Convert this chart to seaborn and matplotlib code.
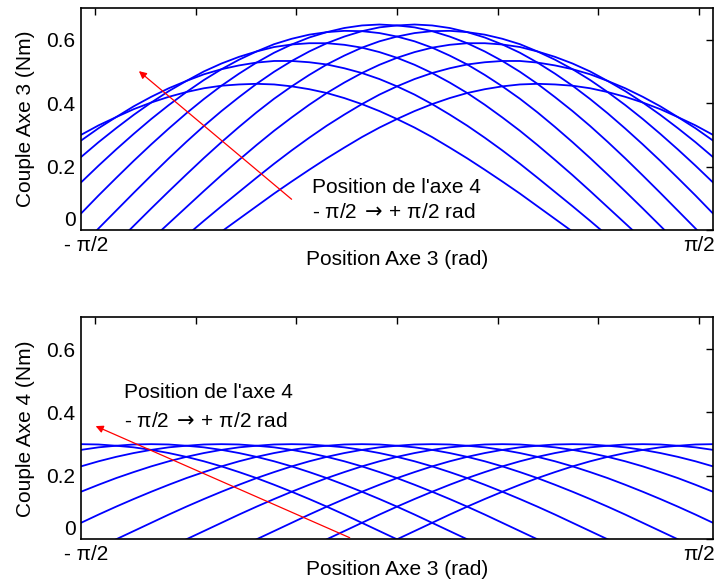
import numpy as np
import pandas as pd
import seaborn as sns
import matplotlib
matplotlib.use('Agg')
from matplotlib import pyplot as plt
from matplotlib.transforms import ScaledTranslation

# position of axis 3 (deg), sampled every 5 deg
q3_deg = [-90, -85, -80, -75, -70, -65, -60, -55, -50, -45, -40, -35, -30,
          -25, -20, -15, -10, -5, 0, 5, 10, 15, 20, 25, 30, 35, 40, 45, 50,
          55, 60, 65, 70, 75, 80, 85, 90]
# position of axis 4 for each curve (deg)
q4_deg = ['-90', '-70', '-50', '-30', '-10', '10', '30', '50', '70', '90']

# torque of axis 3 (Nm), one row per axis 4 position
couple3 = [
    [-.300, -.268, -.234, -.199, -.162, -.124, -.085, -.045, -.005, .035, .075, .115, .153, .190, .226, .260, .293, .323, .350,
     .375, .397, .416, .432, .444, .453, .459, .461, .459, .455, .447, .435, .420, .402, .381, .356, .330, .300],
    [-.282, -.241, -.199, -.155, -.110, -.064, -.018, .029, .075, .120, .165, .209, .251, .291, .329, .364, .397, .427, .453,
     .476, .495, .510, .522, .529, .533, .533, .528, .519, .507, .491, .470, .447, .420, .390, .356, .321, .282],
    [-.230, -.181, -.132, -.081, -.030, .021, .072, .123, .173, .221, .268, .313, .355, .395, .432, .465, .495, .521, .543,
     .561, .575, .584, .589, .589, .585, .577, .563, .546, .525, .500, .470, .438, .402, .363, .321, .277, .230],
    [-.150, -.096, -.042, .013, .068, .122, .175, .227, .277, .325, .371, .414, .453, .489, .522, .550, .575, .595, .610,
     .621, .627, .628, .624, .616, .603, .586, .563, .537, .507, .473, .435, .394, .350, .303, .254, .203, .150],
    [-.052, .005, .061, .117, .172, .226, .278, .328, .375, .419, .461, .499, .533, .563, .589, .610, .627, .639, .645,
     .648, .645, .637, .624, .607, .585, .559, .528, .493, .455, .413, .368, .320, .270, .218, .164, .109, .052],
    [.052, .109, .164, .218, .270, .320, .368, .413, .455, .493, .528, .559, .585, .607, .624, .637, .645, .648, .645,
     .639, .627, .610, .589, .563, .533, .499, .461, .419, .375, .328, .278, .226, .172, .117, .061, .005, -.052],
    [.150, .203, .254, .303, .350, .394, .435, .473, .507, .537, .563, .586, .603, .616, .624, .628, .627, .621, .610,
     .595, .575, .550, .522, .489, .453, .414, .371, .325, .277, .227, .175, .122, .068, .013, -.042, -.096, -.150],
    [.230, .277, .321, .363, .402, .438, .470, .500, .525, .546, .563, .577, .585, .589, .589, .584, .575, .561, .543,
     .521, .495, .465, .432, .395, .355, .313, .268, .221, .173, .123, .072, .021, -.030, -.081, -.132, -.181, -.230],
    [.282, .321, .356, .390, .420, .447, .470, .491, .507, .519, .528, .533, .533, .529, .522, .510, .495, .476, .453,
     .427, .397, .364, .329, .291, .251, .209, .165, .120, .075, .029, -.018, -.064, -.110, -.155, -.199, -.241, -.282],
    [.300, .330, .356, .381, .402, .420, .435, .447, .455, .459, .461, .459, .453, .444, .432, .416, .397, .375, .350,
     .323, .293, .260, .226, .190, .153, .115, .075, .035, -.005, -.045, -.085, -.124, -.162, -.199, -.234, -.268, -.300],
]

# torque of axis 4 (Nm)
couple4 = [
    [-.300, -.299, -.295, -.290, -.282, -.272, -.260, -.246, -.230, -.212, -.193, -.172, -.150, -.127, -.103, -.078, -.052, -.026, 0,
     .026, .052, .078, .103, .127, .150, .172, .193, .212, .230, .246, .260, .272, .282, .290, .295, .299, .300],
    [-.282, -.272, -.260, -.246, -.230, -.212, -.193, -.172, -.150, -.127, -.103, -.078, -.052, -.026, 0, .026, .052, .078, .103,
     .127, .150, .172, .193, .212, .230, .246, .260, .272, .282, .290, .295, .299, .300, .299, .295, .290, .282],
    [-.230, -.212, -.193, -.172, -.150, -.127, -.103, -.078, -.052, -.026, 0, .026, .052, .078, .103, .127, .150, .172, .193,
     .212, .230, .246, .260, .272, .282, .290, .295, .299, .300, .299, .295, .290, .282, .272, .260, .246, .230],
    [-.150, -.127, -.103, -.078, -.052, -.026, 0, .026, .052, .078, .103, .127, .150, .172, .193, .212, .230, .246, .260,
     .272, .282, .290, .295, .299, .300, .299, .295, .290, .282, .272, .260, .246, .230, .212, .193, .172, .150],
    [-.052, -.026, 0, .026, .052, .078, .103, .127, .150, .172, .193, .212, .230, .246, .260, .272, .282, .290, .295,
     .299, .300, .299, .295, .290, .282, .272, .260, .246, .230, .212, .193, .172, .150, .127, .103, .078, .052],
    [.052, .078, .103, .127, .150, .172, .193, .212, .230, .246, .260, .272, .282, .290, .295, .299, .300, .299, .295,
     .290, .282, .272, .260, .246, .230, .212, .193, .172, .150, .127, .103, .078, .052, .026, 0, -.026, -.052],
    [.150, .172, .193, .212, .230, .246, .260, .272, .282, .290, .295, .299, .300, .299, .295, .290, .282, .272, .260,
     .246, .230, .212, .193, .172, .150, .127, .103, .078, .052, .026, 0, -.026, -.052, -.078, -.103, -.127, -.150],
    [.230, .246, .260, .272, .282, .290, .295, .299, .300, .299, .295, .290, .282, .272, .260, .246, .230, .212, .193,
     .172, .150, .127, .103, .078, .052, .026, 0, -.026, -.052, -.078, -.103, -.127, -.150, -.172, -.193, -.212, -.230],
    [.282, .290, .295, .299, .300, .299, .295, .290, .282, .272, .260, .246, .230, .212, .193, .172, .150, .127, .103,
     .078, .052, .026, 0, -.026, -.052, -.078, -.103, -.127, -.150, -.172, -.193, -.212, -.230, -.246, -.260, -.272, -.282],
    [.300, .299, .295, .290, .282, .272, .260, .246, .230, .212, .193, .172, .150, .127, .103, .078, .052, .026, 0,
     -.026, -.052, -.078, -.103, -.127, -.150, -.172, -.193, -.212, -.230, -.246, -.260, -.272, -.282, -.290, -.295, -.299, -.300],
]

x_ticks = [-1.5, -1.0, -0.5, 0.0, 0.5, 1.0, 1.5]
x_ticklabels = ['- π/2', '', '', '', '', '', 'π/2']
y_ticks = [0, 0.2, 0.4, 0.6]
y_ticklabels = ['0', '0.2', '0.4', '0.6']

sns.set_style('white', {'axes.edgecolor': 'black', 'xtick.color': 'black',
                        'ytick.color': 'black', 'text.color': 'black',
                        'axes.labelcolor': 'black'})
plt.rcParams['font.family'] = ['Liberation Sans', 'DejaVu Sans']
plt.rcParams['font.size'] = 15
FS = 15


def to_frame(rows):
    q3 = np.deg2rad(q3_deg)
    parts = []
    for lab, vals in zip(q4_deg, rows):
        parts.append(pd.DataFrame({'q3': q3, 'couple': vals, 'q4': lab}))
    return pd.concat(parts, ignore_index=True)


fig = plt.figure(figsize=(7.15, 5.85), dpi=100)
ax_top = fig.add_axes([0.1133, 0.6068, 0.8839, 0.3795])
ax_bot = fig.add_axes([0.1133, 0.0781, 0.8839, 0.3795])

for ax, rows, ylab in [(ax_top, couple3, 'Couple Axe 3 (Nm)'),
                       (ax_bot, couple4, 'Couple Axe 4 (Nm)')]:
    sns.lineplot(data=to_frame(rows), x='q3', y='couple', hue='q4',
                 palette=['#0000ff'] * len(q4_deg), legend=False,
                 linewidth=1.3, errorbar=None, ax=ax)
    ax.set_xlim(-np.pi / 2, np.pi / 2)
    ax.set_ylim(0, 0.7)
    ax.set_xticks(x_ticks)
    ax.set_xticklabels(x_ticklabels)
    ax.set_yticks(y_ticks)
    ax.set_yticklabels(y_ticklabels)
    ax.tick_params(direction='in', top=True, right=True, length=5, width=1,
                   labelsize=FS, pad=4)
    for s in ax.spines.values():
        s.set_linewidth(1.2)
        s.set_color('black')
    ax.set_xlabel('Position Axe 3 (rad)', fontsize=FS, labelpad=-3)
    ax.set_ylabel(ylab, fontsize=FS, labelpad=8)
    # the "- pi/2" label sits slightly left of its tick, the "0" sits above the axis
    lab0 = ax.get_xticklabels()[0]
    lab0.set_transform(lab0.get_transform() +
                       ScaledTranslation(-0.09, 0, fig.dpi_scale_trans))
    ax.get_yticklabels()[0].set_va('bottom')

arrow = dict(arrowstyle='-|>', color='red', lw=0.9, mutation_scale=11,
             shrinkA=0, shrinkB=0)
line2 = r'- π/2$\,\rightarrow\,$+ π/2 rad'

ax_top.annotate('', xy=(-1.283, 0.501), xytext=(-0.524, 0.097), arrowprops=arrow)
ax_top.text(-0.425, 0.134, "Position de l'axe 4", va='center', fontsize=FS)
ax_top.text(-0.425, 0.055, line2, va='center', fontsize=FS)

ax_bot.annotate('', xy=(-1.498, 0.357), xytext=(-0.235, 0.005), arrowprops=arrow)
ax_bot.text(-1.357, 0.462, "Position de l'axe 4", va='center', fontsize=FS)
ax_bot.text(-1.357, 0.372, line2, va='center', fontsize=FS)

fig.savefig('out.png', dpi=100)
